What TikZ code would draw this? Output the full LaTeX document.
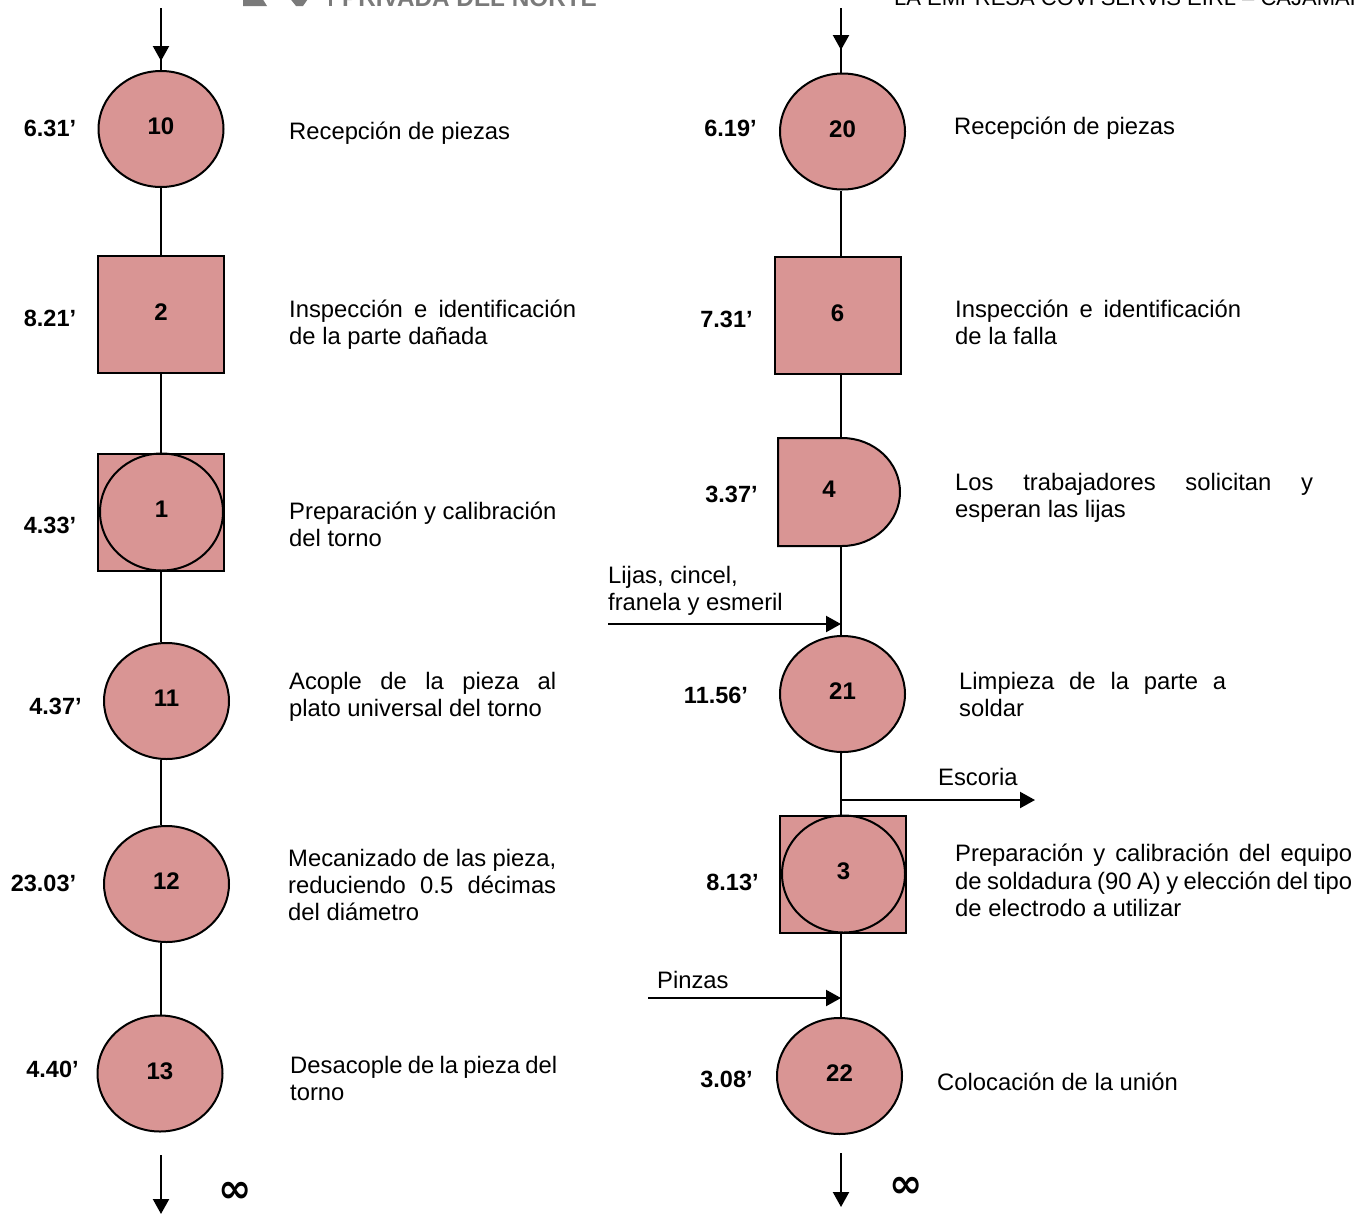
\documentclass[tikz,border=0pt]{standalone}
\usepackage{fontspec}
\setmainfont{Liberation Sans}
\newfontfamily\symbfont{DejaVu Sans}
\usetikzlibrary{shapes.geometric,arrows.meta}
\definecolor{opfill}{HTML}{D99594}
\definecolor{hdrgray}{HTML}{7A7A7A}

\begin{document}
\begin{tikzpicture}[x=1pt,y=-1pt,
  num/.style={font=\fontsize{24}{28}\selectfont\bfseries, inner sep=0pt},
  tag/.style={label={[num,yshift=2.5pt]center:#1}},
  op/.style={ellipse, draw, fill=opfill, line width=2pt, inner sep=0pt,
             minimum width=125pt, minimum height=116pt},
  ring/.style={ellipse, draw, line width=2pt, inner sep=0pt,
             minimum width=123pt, minimum height=117pt},
  insp/.style={rectangle, draw, fill=opfill, line width=2pt, inner sep=0pt,
             minimum width=126pt, minimum height=117pt},
  delaybox/.style={draw, fill=opfill, line width=2pt},
  tm/.style={font=\fontsize{23.5}{28}\selectfont\bfseries, inner sep=0pt},
  desc/.style={font=\fontsize{23.8}{27.3}\selectfont, align=left, anchor=west, inner sep=0pt},
  link/.style={line width=1.6pt},
  flow/.style={line width=2.2pt, -{Triangle[length=15pt,width=16pt]}},
  inf/.style={font=\fontsize{40}{40}\symbfont\bfseries, inner sep=0pt},
]
\useasboundingbox (0,0) rectangle (1358,1216);
\clip (0,0) rectangle (1358,1216);

% ---------- page headers (cut by the top edge) ----------
\fill[hdrgray] (243,-2) -- (262,-2) -- (267,6) -- (243,6) -- cycle;
\fill[hdrgray] (288,-4) -- (310,-4) -- (303,6) -- (296,6) -- cycle;
\fill[hdrgray] (329,-12) rectangle (332,6);
\node[font=\fontsize{24.3}{28}\selectfont\bfseries, text=hdrgray, anchor=base west, inner sep=0pt]
  (uni) at (342,6) {PRIVADA DEL NORTE};
\node[font=\fontsize{22}{26}\selectfont, anchor=base west, inner sep=0pt]
  (firm) at (894,5) {LA EMPRESA COVI SERVIS EIRL – CAJAMARCA};

% ---------- left process ----------
\coordinate (axL) at (161,0);
\node[op, tag=10] (o10) at (161,129) {};
\node[insp, tag=2] (i2) at (161,314.5) {};
\node[insp] (c1box) at (161,512) {};
\node[ring, tag=1] (c1) at (161.5,512) {};
\node[op, tag=11] (o11) at (166.5,701) {};
\node[op, tag=12] (o12) at (166.5,884) {};
\node[op, tag=13] (o13) at (160,1073.5) {};

\coordinate (inL) at (161,8);
\coordinate (inLtip) at (161,61);
\coordinate (outL) at (161,1155);
\coordinate (outLtip) at (161,1214);

\draw[link] (inL) -- (axL |- o10.north);
\draw[flow] (inL) -- (inLtip);
\draw[link] (axL |- o10.south) -- (axL |- i2.north);
\draw[link] (axL |- i2.south) -- (axL |- c1box.north);
\draw[link] (axL |- c1box.south) -- (axL |- o11.north);
\draw[link] (axL |- o11.south) -- (axL |- o12.north);
\draw[link] (axL |- o12.south) -- (axL |- o13.north);
\draw[flow] (outL) -- (outLtip);
\node[inf] (infL) at (235,1192) {∞};

% times, left
\node[tm] (tL10) at (50,128) {6.31’};
\node[tm] (tL2) at (50,318) {8.21’};
\node[tm] (tL1) at (50,525) {4.33’};
\node[tm] (tL11) at (55.5,706) {4.37’};
\node[tm] (tL12) at (43.5,883) {23.03’};
\node[tm] (tL13) at (52.5,1069) {4.40’};

% descriptions, left
\node[desc] (dL10) at (289,133) {Recepción de piezas};
\node[desc] (dL2) at (289,324.5) {\makebox[287pt][s]{Inspección e identificación}\\de la parte dañada};
\node[desc] (dL1) at (289,524.5) {Preparación y calibración\\del torno};
\node[desc] (dL11) at (289,697) {\makebox[267pt][s]{Acople de la pieza al}\\plato universal del torno};
\node[desc] (dL12) at (288,885) {\makebox[268pt][s]{Mecanizado de las pieza,}\\\makebox[268pt][s]{reduciendo 0.5 décimas}\\del diámetro};
\node[desc] (dL13) at (290,1078.5) {\makebox[267pt][s]{Desacople de la pieza del}\\torno};

% ---------- right process ----------
\coordinate (axR) at (841,0);
\node[op, tag=20] (o20) at (842.5,131.5) {};
\node[insp, tag=6] (i6) at (837.5,315.5) {};
\draw[delaybox] (778,438) -- (842,438)
  arc[start angle=-90, end angle=90, x radius=58, y radius=54] -- (778,546) -- cycle;
\node[num] (d4) at (829,489) {4};
\coordinate (d4top) at (841,438);
\coordinate (d4bot) at (841,546);
\node[op, tag=21] (o21) at (842.5,694) {};
\node[insp] (c3box) at (842.5,874) {};
\node[ring, tag=3] (c3) at (843.5,874) {};
\node[op, tag=22] (o22) at (839.5,1076) {};

\coordinate (inR) at (841,8);
\coordinate (inRtip) at (841,50);
\coordinate (outR) at (841,1153);
\coordinate (outRtip) at (841,1207);

\draw[link] (inR) -- (axR |- o20.north);
\draw[flow] (inR) -- (inRtip);
\draw[link] (axR |- o20.south) -- (axR |- i6.north);
\draw[link] (axR |- i6.south) -- (d4top);
\draw[link] (d4bot) -- (axR |- o21.north);
\draw[link] (axR |- o21.south) -- (axR |- c3box.north);
\draw[link] (axR |- c3box.south) -- (axR |- o22.north);
\draw[flow] (outR) -- (outRtip);
\node[inf] (infR) at (906,1187) {∞};

% material inputs and outputs
\coordinate (lijasIn) at (608,624);
\coordinate (lijasAt) at (841,624);
\draw[flow] (lijasIn) -- (lijasAt);
\node[desc] (lijas) at (608,591) {Lijas, cincel,\\franela y esmeril};

\coordinate (escOut) at (841,800);
\coordinate (escEnd) at (1035,800);
\draw[flow] (escOut) -- (escEnd);
\node[desc] (escoria) at (938,777) {Escoria};

\coordinate (pinIn) at (648,998);
\coordinate (pinAt) at (841,998);
\draw[flow] (pinIn) -- (pinAt);
\node[desc] (pinzas) at (657,980) {Pinzas};

% times, right
\node[tm] (tR20) at (730.5,128) {6.19’};
\node[tm] (tR6) at (726.5,319) {7.31’};
\node[tm] (tR4) at (731.5,494) {3.37’};
\node[tm] (tR21) at (716,695) {11.56’};
\node[tm] (tR3) at (732.5,882) {8.13’};
\node[tm] (tR22) at (726.5,1079) {3.08’};

% descriptions, right
\node[desc] (dR20) at (954,128) {Recepción de piezas};
\node[desc] (dR6) at (955,322.5) {\makebox[286pt][s]{Inspección e identificación}\\de la falla};
\node[desc] (dR4) at (955,498) {\makebox[358pt][s]{Los trabajadores solicitan y}\\esperan las lijas};
\node[desc] (dR21) at (959,694.5) {\makebox[267pt][s]{Limpieza de la parte a}\\soldar};
\node[desc] (dR3) at (955,880.5) {\makebox[397pt][s]{Preparación y calibración del equipo}\\\makebox[397pt][s]{de soldadura (90 A) y elección del tipo}\\de electrodo a utilizar};
\node[desc] (dR22) at (937,1082) {Colocación de la unión};
\end{tikzpicture}
\end{document}
